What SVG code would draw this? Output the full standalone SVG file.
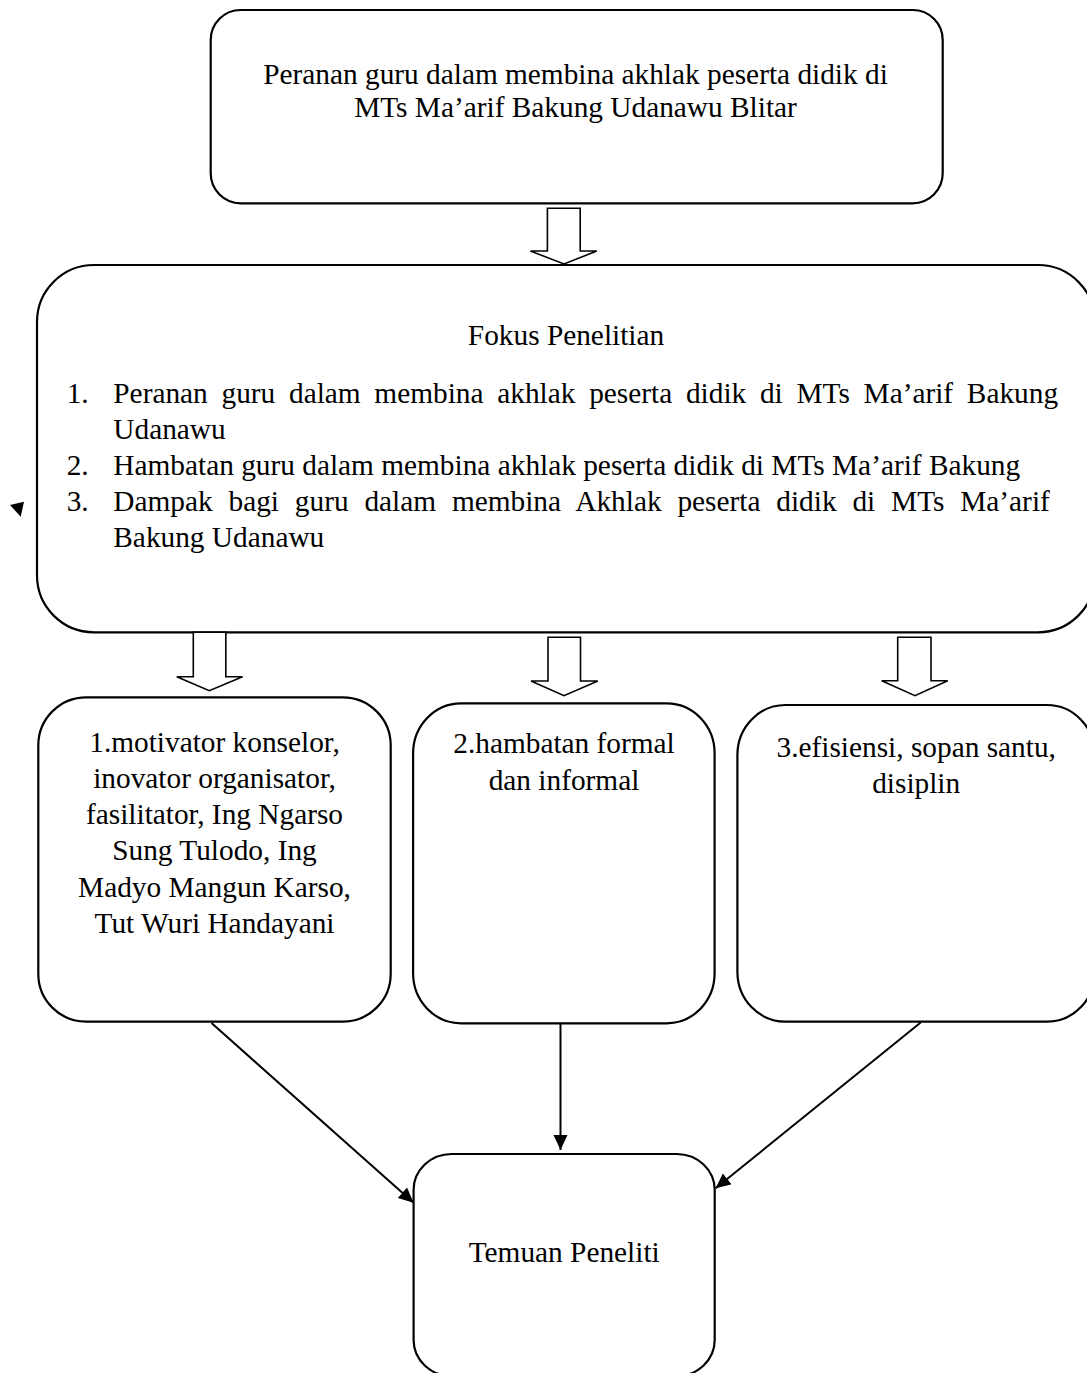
<svg xmlns="http://www.w3.org/2000/svg" width="1087" height="1373" viewBox="0 0 1087 1373">
<style>
.box{fill:#fff;stroke:#000;stroke-width:2.2}
.blk{fill:#fff;stroke:#000;stroke-width:1.6;stroke-linejoin:miter}
.t{font-family:"Liberation Serif","Times New Roman",serif;font-size:29.33px;fill:#000}
.c{text-anchor:middle}
.con{stroke:#000;stroke-width:2;fill:none}
</style>
<defs>
<marker id="ah" markerUnits="userSpaceOnUse" markerWidth="16" markerHeight="15" refX="15" refY="7" orient="auto">
<path d="M0,0 L15,7 L0,14 z" fill="#000"/>
</marker>
</defs>
<rect width="1087" height="1373" fill="#fff"/>

<g id="top">
<rect class="box" x="210.7" y="10" width="732" height="193.3" rx="30" ry="30"/>
<text class="t c" x="575.5" y="84">Peranan guru dalam membina akhlak peserta didik di</text>
<text class="t c" x="575.5" y="117">MTs Ma’arif Bakung Udanawu Blitar</text>
</g>

<g id="fokus">
<rect class="box" x="37" y="265" width="1058" height="367.3" rx="57" ry="57"/>
<text class="t c" x="566" y="345">Fokus Penelitian</text>
<text class="t" x="66.7" y="403.3">1.</text>
<text class="t" x="113.3" y="403.3" style="word-spacing:6.4px">Peranan guru dalam membina akhlak peserta didik di MTs Ma’arif Bakung</text>
<text class="t" x="113.3" y="439">Udanawu</text>
<text class="t" x="66.7" y="475">2.</text>
<text class="t" x="113.3" y="475">Hambatan guru dalam membina akhlak peserta didik di MTs Ma’arif Bakung</text>
<text class="t" x="66.7" y="511">3.</text>
<text class="t" x="113.3" y="511" style="word-spacing:8.5px">Dampak bagi guru dalam membina Akhlak peserta didik di MTs Ma’arif</text>
<text class="t" x="113.3" y="547">Bakung Udanawu</text>
</g>

<g id="boxA">
<rect class="box" x="38.3" y="697.3" width="352.4" height="324.4" rx="48" ry="48"/>
<text class="t c" x="214.5" y="751.7">1.motivator konselor,</text>
<text class="t c" x="214.5" y="787.9">inovator organisator,</text>
<text class="t c" x="214.5" y="824.1">fasilitator, Ing Ngarso</text>
<text class="t c" x="214.5" y="860.3">Sung Tulodo, Ing</text>
<text class="t c" x="214.5" y="896.5">Madyo Mangun Karso,</text>
<text class="t c" x="214.5" y="932.7">Tut Wuri Handayani</text>
</g>

<g id="boxB">
<rect class="box" x="413.1" y="703.3" width="301.5" height="320" rx="48" ry="50"/>
<text class="t c" x="564" y="753.3">2.hambatan formal</text>
<text class="t c" x="564" y="790">dan informal</text>
</g>

<g id="boxC">
<rect class="box" x="737.4" y="705" width="357.6" height="316.7" rx="48" ry="50"/>
<text class="t c" x="916.2" y="756.7">3.efisiensi, sopan santu,</text>
<text class="t c" x="916.2" y="793.3">disiplin</text>
</g>

<g id="temuan">
<rect class="box" x="413.6" y="1154" width="301.1" height="222" rx="38" ry="36"/>
<text class="t c" x="564.2" y="1261.7">Temuan Peneliti</text>
</g>

<g id="connectors">
<path class="blk" d="M547.4,208.3 L580.2,208.3 L580.2,251 L596.8,251 L564,264 L530.4,251 L547.4,251 Z"/>
<path class="blk" d="M193.3,632.3 L225.8,632.3 L225.8,676.7 L242.6,676.7 L209.3,690.7 L176.8,676.7 L193.3,676.7 Z"/>
<path class="blk" d="M548,637.3 L580.5,637.3 L580.5,681 L597.8,681 L564,695.7 L531,681 L548,681 Z"/>
<path class="blk" d="M897.7,637.3 L931,637.3 L931,680.7 L947.7,680.7 L915,695.7 L881.7,680.7 L897.7,680.7 Z"/>
<line class="con" x1="211.5" y1="1023" x2="413.6" y2="1202.7" marker-end="url(#ah)"/>
<line class="con" x1="560.5" y1="1023.3" x2="560.5" y2="1150" marker-end="url(#ah)"/>
<line class="con" x1="920.7" y1="1022.5" x2="715.6" y2="1188.3" marker-end="url(#ah)"/>
<path d="M10,505 L24,501.7 L20.7,516.7 Z" fill="#000"/>
</g>
</svg>
